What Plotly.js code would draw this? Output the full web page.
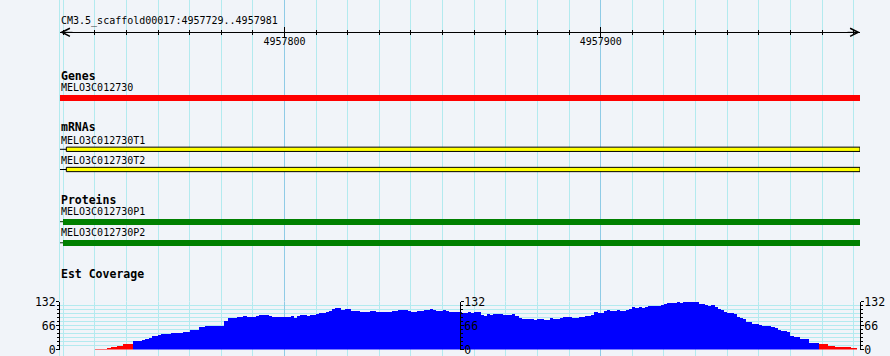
<!DOCTYPE html>
<html><head><meta charset="utf-8">
<script src="https://cdn.plot.ly/plotly-3.0.1.min.js"></script>
<style>html,body{margin:0;padding:0;background:#f1f4f9}#chart{width:890px;height:356px}</style>
</head><body><div id="chart"></div>
<script>
// ---------- data ----------
const regionName = 'CM3.5_scaffold00017';
const regionStart = 4957729;
const regionEnd = 4957981;
const rulerTickStep = 100;
const rulerMinorStep = 10;

const trackTitles = ['Genes', 'mRNAs', 'Proteins', 'Est Coverage'];

const geneNames = ['MELO3C012730'];
const geneStarts = [4957728];
const geneEnds = [4957982];

const mrnaNames = ['MELO3C012730T1', 'MELO3C012730T2'];
const mrnaStarts = [4957728, 4957728];
const mrnaExonStarts = [4957731, 4957731];
const mrnaEnds = [4957982, 4957982];

const proteinNames = ['MELO3C012730P1', 'MELO3C012730P2'];
const proteinStarts = [4957728, 4957728];
const proteinBoxStarts = [4957730, 4957730];
const proteinEnds = [4957982, 4957982];

const coverageMax = 132;
const coverageTickVals = [0, 66, 132];
const coverageMinorStep = 11;
const coverageLowCutoff = 17;
const coverageValues = [
  0,0,0,0,0,0,0,0,0,0,0,
  2,2,2,2,4,7,7,11,11,15,15,16,
  23,23,23,26,29,32,36,36,40,42,42,42,46,46,46,46,49,49,54,54,54,61,61,
  64,64,64,64,64,64,79,87,87,87,89,89,92,89,89,89,92,95,95,95,92,
  89,89,89,89,89,89,92,87,92,95,95,92,95,95,97,101,101,104,106,111,
  115,115,109,111,111,106,106,106,104,104,104,106,106,104,102,102,102,102,
  106,106,110,110,110,106,104,104,106,106,110,110,112,110,106,106,110,106,
  104,104,102,102,100,100,102,100,102,102,95,92,97,95,97,97,97,95,95,95,
  97,92,87,84,84,84,83,82,84,85,82,82,86,84,84,87,89,89,89,87,87,89,89,
  92,92,96,104,101,101,106,110,107,107,110,107,107,110,112,117,115,117,115,
  117,120,120,120,120,122,125,128,128,128,130,128,132,132,132,130,130,125,
  125,122,120,122,117,112,108,104,101,101,97,89,86,84,76,76,71,71,67,65,
  65,65,62,59,55,52,52,47,38,34,34,30,28,28,18,18,18,15,15,15,11,11,
  7,7,7,7,7,3,3,0
];
const coveragePositions = coverageValues.map((v, i) => regionStart + i);

// ---------- layout constants ----------
const W = 890, H = 356, ML = 60, MR = 30;
const FONT = 'DejaVu Sans Mono';
const rows = {
  title: 21, ruler: 32.3,
  geneHead: 76, geneLabel: [87.7], geneBar: [98], geneThick: 5.8,
  mrnaHead: 127.3, mrnaLabel: [140, 160.7], mrnaBar: [149.3, 169.5], mrnaThick: 4.3,
  protHead: 200, protLabel: [211.7, 232.7], protBar: [221.7, 242.8], protThick: 5.8,
  covHead: 274.3, covTop: 301.6, covBottom: 349.5
};
const gridMinor = '#b3eaef';
const gridMajor = '#8fcbe6';
const bg = '#f1f4f9';
const xRange = [regionStart, regionEnd + 1];

// ---------- traces ----------
const traces = [];
traces.push({
  type: 'bar', orientation: 'h', xaxis: 'x', yaxis: 'y',
  y: rows.geneBar, base: geneStarts, x: geneEnds.map((e, i) => e - geneStarts[i]),
  width: rows.geneThick, marker: {color: '#ff0000', line: {width: 0}}, hoverinfo: 'skip'
});
mrnaNames.forEach((n, i) => traces.push({
  type: 'scatter', mode: 'lines', xaxis: 'x', yaxis: 'y',
  x: [mrnaStarts[i], mrnaExonStarts[i]], y: [rows.mrnaBar[i], rows.mrnaBar[i]],
  line: {color: '#000', width: 1}, hoverinfo: 'skip'
}));
traces.push({
  type: 'bar', orientation: 'h', xaxis: 'x', yaxis: 'y',
  y: rows.mrnaBar, base: mrnaExonStarts, x: mrnaEnds.map((e, i) => e - mrnaExonStarts[i]),
  width: rows.mrnaThick, marker: {color: '#ffff00', line: {width: 1, color: '#000'}}, hoverinfo: 'skip'
});
proteinNames.forEach((n, i) => traces.push({
  type: 'scatter', mode: 'lines', xaxis: 'x', yaxis: 'y',
  x: [proteinStarts[i], proteinBoxStarts[i]], y: [rows.protBar[i], rows.protBar[i]],
  line: {color: '#003000', width: 1}, hoverinfo: 'skip'
}));
traces.push({
  type: 'bar', orientation: 'h', xaxis: 'x', yaxis: 'y',
  y: rows.protBar, base: proteinBoxStarts, x: proteinEnds.map((e, i) => e - proteinBoxStarts[i]),
  width: rows.protThick, marker: {color: '#008000', line: {width: 0}}, hoverinfo: 'skip'
});
traces.push({
  type: 'bar', xaxis: 'x', yaxis: 'y2',
  x: coveragePositions, y: coverageValues, offset: 0, width: 1,
  marker: {color: coverageValues.map(v => v < coverageLowCutoff ? '#ff0000' : '#0000ff'), line: {width: 0}},
  hoverinfo: 'skip'
});
// invisible anchors so the ruler and extra coverage axes are drawn
[['x2', 'y'], ['x3', 'y'], ['x', 'y3'], ['x', 'y4']].forEach(([xa, ya]) => traces.push({
  type: 'scatter', mode: 'markers', xaxis: xa, yaxis: ya,
  x: [regionStart], y: [ya === 'y' ? rows.ruler : 0], marker: {opacity: 0, size: 1}, hoverinfo: 'skip'
}));

// ---------- annotations ----------
const ann = [];
function label(text, y, bold, size) {
  ann.push({
    text: bold ? '<b>' + text + '</b>' : text, xref: 'paper', yref: 'y', x: 0, y: y,
    xanchor: 'left', yanchor: 'middle', showarrow: false, borderpad: 0,
    font: {family: FONT, size: size || 10, color: '#000'}
  });
}
label(regionName + ':' + regionStart + '..' + regionEnd, rows.title, false, 10);
label(trackTitles[0], rows.geneHead, true, 11.5);
geneNames.forEach((n, i) => label(n, rows.geneLabel[i], false, 10));
label(trackTitles[1], rows.mrnaHead, true, 11.5);
mrnaNames.forEach((n, i) => label(n, rows.mrnaLabel[i], false, 10));
label(trackTitles[2], rows.protHead, true, 11.5);
proteinNames.forEach((n, i) => label(n, rows.protLabel[i], false, 10));
label(trackTitles[3], rows.covHead, true, 11.5);
// ruler arrowheads
ann.push({x: xRange[0], y: rows.ruler, xref: 'x', yref: 'y', ax: 14, ay: 0, text: '', showarrow: true,
  arrowhead: 5, arrowsize: 1.6, arrowwidth: 1, arrowcolor: '#000'});
ann.push({x: xRange[1], y: rows.ruler, xref: 'x', yref: 'y', ax: -14, ay: 0, text: '', showarrow: true,
  arrowhead: 5, arrowsize: 1.6, arrowwidth: 1, arrowcolor: '#000'});

// ---------- axes ----------
const rulerPos = 1 - rows.ruler / H;
const covDomain = [(H - rows.covBottom) / H, (H - rows.covTop) / H];
const covAxisBase = {
  range: [0, coverageMax], tickmode: 'array', tickvals: coverageTickVals,
  ticktext: coverageTickVals.map(String),
  ticks: 'outside', ticklen: 3, tickcolor: '#000', tickwidth: 1,
  showline: true, linecolor: '#000', linewidth: 1, zeroline: false,
  tickfont: {family: FONT, size: 11.5, color: '#000'},
  ticklabeloverflow: 'allow', ticklabelstandoff: -2,
  minor: {tickmode: 'linear', tick0: 0, dtick: coverageMinorStep, ticks: 'outside', ticklen: 2, tickcolor: '#000', showgrid: false},
  showgrid: false, fixedrange: true
};
const layout = {
  width: W, height: H, margin: {l: ML, r: MR, t: 0, b: 0, pad: 0},
  paper_bgcolor: bg, plot_bgcolor: bg, showlegend: false, barmode: 'overlay', bargap: 0,
  hovermode: false,
  xaxis: {
    domain: [0, 1], range: xRange, anchor: 'y', showticklabels: false, ticks: '',
    showgrid: true, gridcolor: gridMajor, gridwidth: 1, tickmode: 'linear', tick0: 4957800, dtick: rulerTickStep,
    minor: {showgrid: true, gridcolor: gridMinor, gridwidth: 1, tick0: 4957730, dtick: rulerMinorStep, ticks: ''},
    zeroline: false, showline: false, fixedrange: true
  },
  xaxis2: {
    overlaying: 'x', anchor: 'free', position: rulerPos, side: 'bottom', range: xRange,
    showline: true, linecolor: '#000', linewidth: 1, showgrid: false, zeroline: false,
    tickmode: 'linear', tick0: 4957800, dtick: rulerTickStep, tickformat: 'd',
    ticks: 'outside', ticklen: 5, tickcolor: '#000', tickwidth: 1,
    tickfont: {family: FONT, size: 10, color: '#000'}, ticklabelstandoff: -5,
    minor: {tick0: 4957730, dtick: rulerMinorStep, ticks: 'outside', ticklen: 2, tickcolor: '#000', showgrid: false},
    fixedrange: true
  },
  xaxis3: {
    overlaying: 'x', anchor: 'free', position: rulerPos, side: 'top', range: xRange,
    showline: false, showgrid: false, zeroline: false, showticklabels: false,
    tickmode: 'linear', tick0: 4957800, dtick: rulerTickStep,
    ticks: 'outside', ticklen: 5, tickcolor: '#000', tickwidth: 1,
    minor: {tick0: 4957730, dtick: rulerMinorStep, ticks: 'outside', ticklen: 2, tickcolor: '#000', showgrid: false},
    fixedrange: true
  },
  yaxis: {
    domain: [0, 1], range: [H, 0], anchor: 'x', showgrid: false, zeroline: false,
    showticklabels: false, ticks: '', showline: true, linecolor: gridMinor, linewidth: 1, fixedrange: true
  },
  yaxis2: Object.assign({}, covAxisBase, {
    domain: covDomain, anchor: 'x', side: 'left',
    showgrid: true, gridcolor: gridMinor,
    minor: Object.assign({}, covAxisBase.minor, {showgrid: true, gridcolor: gridMinor})
  }),
  yaxis3: Object.assign({}, covAxisBase, {overlaying: 'y2', anchor: 'free', position: 0.5, side: 'right'}),
  yaxis4: Object.assign({}, covAxisBase, {overlaying: 'y2', anchor: 'free', position: 1, side: 'right'}),
  annotations: ann
};
Plotly.newPlot('chart', traces, layout, {staticPlot: true, displayModeBar: false});
</script></body></html>
